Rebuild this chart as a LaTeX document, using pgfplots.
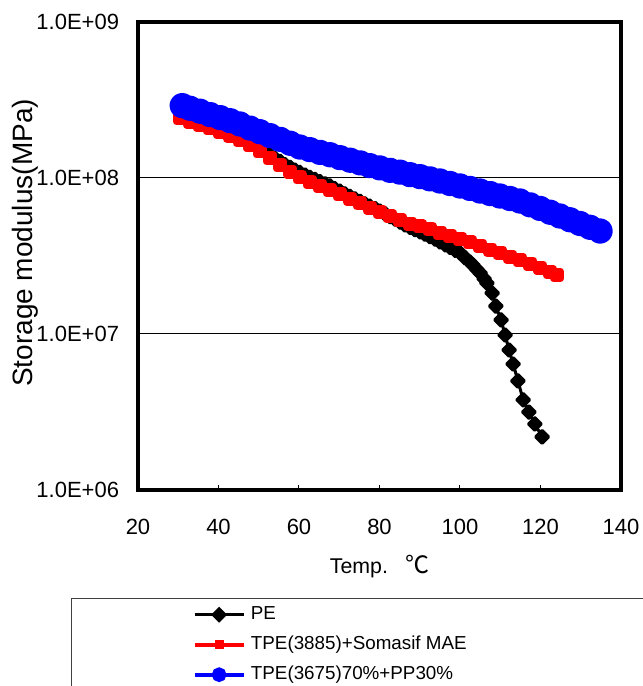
\documentclass[border=0pt]{standalone}
\usepackage{fontspec}
\setmainfont{Liberation Sans}
\newfontfamily\cjk{Noto Sans CJK JP}
\usepackage{pgfplots}
\pgfplotsset{compat=1.18}
\usepackage{pgfplotstable}

% PE
\pgfplotstableread{
T E
29.8 3.00e8
31.7 2.81e8
32.9 2.69e8
34.2 2.57e8
35.4 2.48e8
36.6 2.39e8
37.9 2.30e8
39.1 2.22e8
40.4 2.15e8
41.6 2.09e8
42.9 2.04e8
44.1 1.99e8
45.3 1.92e8
46.6 1.83e8
47.8 1.75e8
49.1 1.66e8
50.3 1.57e8
51.6 1.48e8
52.8 1.40e8
54.0 1.34e8
55.3 1.28e8
56.5 1.22e8
57.8 1.17e8
59.0 1.125e8
60.2 1.085e8
61.5 1.045e8
62.7 1.01e8
64.0 9.79e7
65.2 9.48e7
66.5 9.18e7
67.7 8.89e7
68.9 8.55e7
70.2 8.23e7
71.4 7.92e7
72.7 7.62e7
73.9 7.34e7
75.2 7.08e7
76.4 6.83e7
77.6 6.60e7
78.9 6.37e7
80.1 6.14e7
81.4 5.89e7
82.6 5.66e7
83.9 5.44e7
85.1 5.22e7
86.3 5.00e7
87.6 4.82e7
88.8 4.66e7
90.1 4.51e7
91.3 4.36e7
92.5 4.21e7
93.8 4.06e7
95.0 3.89e7
96.3 3.73e7
97.5 3.59e7
98.8 3.44e7
100.0 3.31e7
101.2 3.09e7
102.5 2.89e7
103.2 2.77e7
104.2 2.59e7
105.0 2.46e7
106.0 2.26e7
106.7 2.12e7
108.0 1.83e7
108.9 1.51e7
110.2 1.23e7
111.2 9.85e6
112.2 7.90e6
113.2 6.42e6
114.4 5.00e6
115.7 3.78e6
117.1 3.16e6
118.6 2.65e6
120.4 2.19e6
}\pe

% TPE(3885)+Somasif MAE
\pgfplotstableread{
T E
30.4 2.42e8
32.9 2.30e8
35.4 2.19e8
37.9 2.08e8
40.4 1.97e8
42.9 1.87e8
45.3 1.76e8
47.8 1.62e8
50.3 1.48e8
52.8 1.34e8
55.3 1.21e8
57.8 1.10e8
60.2 1.01e8
62.7 9.43e7
65.2 8.89e7
67.7 8.38e7
70.2 7.85e7
72.7 7.36e7
75.2 6.89e7
77.6 6.46e7
80.1 6.06e7
82.6 5.70e7
85.1 5.37e7
87.6 5.09e7
90.1 4.89e7
92.5 4.70e7
95.0 4.44e7
97.5 4.25e7
100.0 4.06e7
102.5 3.86e7
105.0 3.67e7
107.5 3.48e7
109.9 3.31e7
112.4 3.13e7
114.9 2.97e7
117.4 2.81e7
119.9 2.65e7
122.4 2.49e7
124.1 2.39e7
}\tpea

% TPE(3675)70%+PP30%
\pgfplotstableread{
T E
31.0 2.91e8
32.9 2.80e8
35.4 2.68e8
37.9 2.55e8
40.4 2.44e8
42.9 2.33e8
45.3 2.22e8
47.8 2.09e8
50.3 1.98e8
52.8 1.87e8
55.3 1.77e8
57.8 1.67e8
60.2 1.58e8
62.7 1.52e8
65.2 1.46e8
67.7 1.41e8
70.2 1.35e8
72.7 1.30e8
75.2 1.25e8
77.6 1.20e8
80.1 1.16e8
82.6 1.12e8
85.1 1.09e8
87.6 1.05e8
90.1 1.02e8
92.5 9.88e7
95.0 9.57e7
97.5 9.22e7
100.0 8.89e7
102.5 8.57e7
105.0 8.25e7
107.5 7.95e7
109.9 7.67e7
112.4 7.39e7
114.9 7.12e7
117.4 6.73e7
119.9 6.38e7
122.4 6.03e7
124.8 5.71e7
127.3 5.40e7
129.8 5.11e7
132.3 4.83e7
134.8 4.57e7
}\tpeb

\begin{document}
\begin{tikzpicture}
\path[use as bounding box] (-103.5pt,-147pt) rectangle (378.75pt,367.5pt);
\begin{axis}[
  at={(0pt,0pt)}, anchor=south west,
  scale only axis,
  width=362.25pt, height=351pt,
  xmin=20, xmax=140,
  ymode=log, ymin=1e6, ymax=1e9,
  xtick={20,40,60,80,100,120,140},
  xticklabels={20,40,60,80,100,120,140},
  ytick={1e6,1e7,1e8,1e9},
  yticklabels={1.0E+06,1.0E+07,1.0E+08,1.0E+09},
  minor ytick={},
  yminorticks=false,
  ymajorgrids=true,
  major grid style={black, line width=0.75pt},
  axis line style={line width=2.4pt, black},
  tick align=inside,
  xtick pos=left,
  major tick length=3.5pt,
  xtick style={black, line width=0.75pt},
  ytick style={draw=none},
  ticklabel style={font=\fontsize{16.5}{19}\selectfont},
  yticklabel style={inner xsep=0pt, xshift=-14pt},
  xticklabel style={inner ysep=0pt, yshift=-22pt},
  xlabel={Temp.\hspace{0.8em}{\cjk\fontsize{18}{20}\selectfont ℃}},
  ylabel={Storage modulus(MPa)},
  xlabel style={at={(axis description cs:0.5,0)}, anchor=north, yshift=-49pt, inner sep=0pt, font=\fontsize{16}{19}\selectfont},
  ylabel style={at={(axis description cs:-0.234,0.528)}, anchor=center, inner sep=0pt, font=\fontsize{21}{25}\selectfont},
  legend image code/.code={\draw[mark repeat=2,mark phase=2,#1] plot coordinates {(0pt,0pt) (18.4pt,0pt) (36.75pt,0pt)};},
  legend style={draw=none, fill=none, at={(axis description cs:0.1125,-0.241)}, anchor=north west,
    inner sep=0pt, row sep=5pt, column sep=2pt,
    font=\fontsize{14.1}{16}\selectfont,
    nodes={inner sep=2pt, text height=10.5pt, text depth=3pt}},
  legend cell align=left,
]
\addplot[forget plot, black, line width=2.25pt, line join=round, mark=square*, mark size=3.4pt, mark options={rotate=45, solid}] table[x=T,y=E] {\pe};
\addplot[forget plot, red, line width=5.5pt, line join=round, mark=square*, mark size=2.5pt, mark options={solid}] table[x=T,y=E] {\tpea};
\addplot[forget plot, blue, line width=9pt, line join=round, line cap=round, mark=*, mark size=5pt, mark options={solid}] table[x=T,y=E] {\tpeb};
\addlegendimage{black, line width=2.25pt, mark=square*, mark size=3.1pt, mark options={rotate=45, solid}}
\addlegendentry{PE}
\addlegendimage{red, line width=3pt, mark=square*, mark size=1.9pt, mark options={solid}}
\addlegendentry{TPE(3885)+Somasif MAE}
\addlegendimage{blue, line width=3pt, mark=*, mark size=4pt, mark options={solid}}
\addlegendentry{TPE(3675)70\%+PP30\%}
\end{axis}
\begin{scope}
\clip (-103.5pt,-147pt) rectangle (378.75pt,367.5pt);
\draw[line width=0.75pt, black!75] (-49.5pt,-81pt) rectangle (420pt,-200pt);
\end{scope}
\end{tikzpicture}
\end{document}
